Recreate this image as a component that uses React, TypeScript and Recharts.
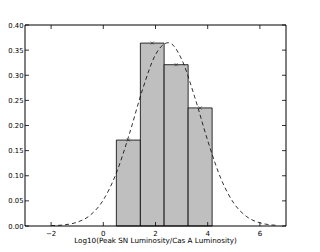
import { ComposedChart, XAxis, YAxis, Line, Scatter, ReferenceArea } from "recharts";

const binEdges = [0.5, 1.42, 2.33, 3.25, 4.17];
const binValues = [0.171, 0.364, 0.321, 0.235];
const xTicks = [-2, 0, 2, 4, 6];
const yTicks = [0, 0.05, 0.1, 0.15, 0.2, 0.25, 0.3, 0.35, 0.4];
const curveX = [-2, -1.5, -1, -0.5, 0, 0.5, 1, 1.5, 2, 2.5, 3, 3.5, 4, 4.5, 5, 5.5, 6, 6.5, 6.7];
const curveY = [0.0006, 0.0023, 0.0076, 0.0215, 0.0517, 0.1055, 0.1833, 0.271, 0.341, 0.3648, 0.332, 0.257, 0.17, 0.0951, 0.0454, 0.0184, 0.0064, 0.0019, 0.0012];

const W = 320;
const H = 252;
const L = 25;
const T = 25;
const R = 286;
const B = 226;

const curve = curveX.map((x, i) => ({ x, y: curveY[i] }));
const marks = binValues.map((v, i) => ({ x: (binEdges[i] + binEdges[i + 1]) / 2, y: v }));

const font = "'DejaVu Sans', sans-serif";

const XTick = (p: any) => {
  const { x, payload } = p;
  return (
    <g>
      <line x1={x} x2={x} y1={B} y2={B - 4} stroke="#000" strokeWidth={0.8} />
      <line x1={x} x2={x} y1={T} y2={T + 4} stroke="#000" strokeWidth={0.8} />
      <text x={x} y={B + 9.5} textAnchor="middle" fontSize={7} fontFamily={font} fill="#000">
        {payload.value < 0 ? "\u2212" + Math.abs(payload.value) : payload.value}
      </text>
    </g>
  );
};

const YTick = (p: any) => {
  const { y, payload } = p;
  return (
    <g>
      <line x1={L} x2={L + 4} y1={y} y2={y} stroke="#000" strokeWidth={0.8} />
      <line x1={R} x2={R - 4} y1={y} y2={y} stroke="#000" strokeWidth={0.8} />
      <text x={L - 1.5} y={y + 2.5} textAnchor="end" fontSize={6.8} fontFamily={font} fill="#000">
        {payload.value.toFixed(2)}
      </text>
    </g>
  );
};

const XMark = (p: any) => {
  const { cx, cy } = p;
  return (
    <g stroke="#333" strokeWidth={0.7}>
      <line x1={cx - 1.5} x2={cx + 1.5} y1={cy - 1.5} y2={cy + 1.5} />
      <line x1={cx - 1.5} x2={cx + 1.5} y1={cy + 1.5} y2={cy - 1.5} />
    </g>
  );
};

export default function App() {
  return (
    <div style={{ position: "absolute", left: 0, top: 0, width: W, height: H, background: "#fff" }}>
      <ComposedChart width={W} height={H} data={curve} margin={{ top: T, right: W - R, bottom: 0, left: 0 }}>
        <XAxis
          type="number"
          dataKey="x"
          domain={[-3, 7]}
          ticks={xTicks}
          axisLine={false}
          tickLine={false}
          tick={<XTick />}
          height={H - B}
          allowDataOverflow
          label={{ value: "Log10(Peak SN Luminosity/Cas A Luminosity)", position: "insideBottom", offset: 9, fontSize: 7.2, fontFamily: font, fill: "#000" }}
        />
        <YAxis
          type="number"
          domain={[0, 0.4]}
          ticks={yTicks}
          axisLine={false}
          tickLine={false}
          tick={<YTick />}
          width={L}
          allowDataOverflow
        />
        {binValues.map((v, i) => (
          <ReferenceArea
            key={i}
            x1={binEdges[i]}
            x2={binEdges[i + 1]}
            y1={0}
            y2={v}
            fill="#bfbfbf"
            fillOpacity={1}
            stroke="#000"
            strokeWidth={1}
            strokeOpacity={0.8}
          />
        ))}
        <Line
          type="monotone"
          dataKey="y"
          stroke="#000"
          strokeWidth={0.8}
          strokeDasharray="4 3"
          dot={false}
          isAnimationActive={false}
        />
        <Scatter data={marks} dataKey="y" shape={<XMark />} isAnimationActive={false} />
        <ReferenceArea x1={-3} x2={7} y1={0} y2={0.4} fill="none" stroke="#000" strokeWidth={1} />
      </ComposedChart>
    </div>
  );
}
